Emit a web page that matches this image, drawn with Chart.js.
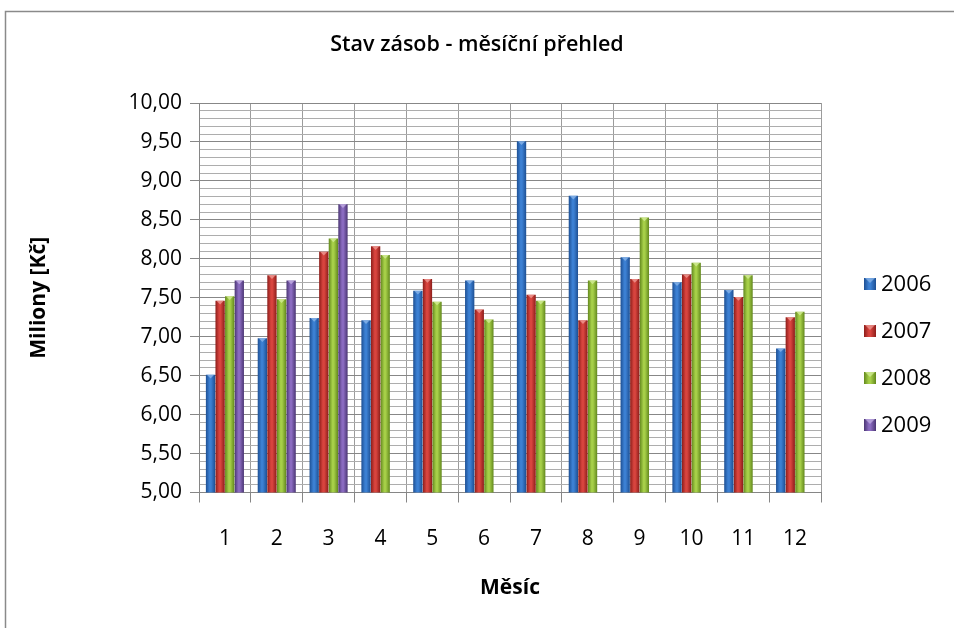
<!DOCTYPE html>
<html>
<head>
<meta charset="utf-8">
<script src="https://cdn.jsdelivr.net/npm/chart.js@4/dist/chart.umd.min.js"></script>
<style>
  html, body { margin: 0; padding: 0; background: #ffffff; }
  canvas { display: block; }
</style>
</head>
<body>
<canvas id="c" width="954" height="628"></canvas>
<script>
// Monthly stock levels (millions CZK) per year
const months = ['1', '2', '3', '4', '5', '6', '7', '8', '9', '10', '11', '12'];
const years = ['2006', '2007', '2008', '2009'];
const stock2006 = [6.51, 6.98, 7.24, 7.21, 7.59, 7.72, 9.51, 8.81, 8.02, 7.70, 7.60, 6.85];
const stock2007 = [7.46, 7.79, 8.09, 8.16, 7.74, 7.35, 7.54, 7.21, 7.74, 7.80, 7.51, 7.25];
const stock2008 = [7.52, 7.48, 8.26, 8.05, 7.45, 7.22, 7.46, 7.72, 8.53, 7.95, 7.79, 7.32];
const stock2009 = [7.72, 7.72, 8.70, null, null, null, null, null, null, null, null, null];
const yMin = 5;
const yMax = 10;

// Shading per series: [edge, centre, highlight]
const shades = [
  ['#1d4f93', '#3c80d3', '#8fb8ea'],
  ['#8c1d1a', '#d8443e', '#f0a09a'],
  ['#62881d', '#a6cf48', '#d6ee9c'],
  ['#4a3573', '#8a6bc0', '#c5b2e6']
];

const FONT = "'Open Sans', 'Noto Sans', sans-serif";

function isMajor(v) {
  return Math.abs(v * 2 - Math.round(v * 2)) < 1e-6;
}

function gradFor(ctx, x, w, s) {
  const g = ctx.createLinearGradient(x - w / 2, 0, x + w / 2, 0);
  g.addColorStop(0, s[0]);
  g.addColorStop(0.4, s[1]);
  g.addColorStop(0.55, s[1]);
  g.addColorStop(1, s[0]);
  return g;
}

function eachBar(chart, fn) {
  chart.data.datasets.forEach((ds, di) => {
    const meta = chart.getDatasetMeta(di);
    meta.data.forEach((bar, idx) => {
      if (ds.data[idx] == null) return;
      fn(bar, di);
    });
  });
}

// Horizontal shading and a bevelled cap on every bar
const barShade = {
  id: 'barShade',
  beforeDatasetsDraw(chart) {
    const c = chart.ctx;
    eachBar(chart, (bar, di) => {
      const p = bar.getProps(['x', 'width'], true);
      bar.options = Object.assign({}, bar.options, {
        backgroundColor: gradFor(c, p.x, p.width, shades[di])
      });
    });
  },
  afterDatasetsDraw(chart) {
    const c = chart.ctx;
    c.save();
    eachBar(chart, (bar, di) => {
      const p = bar.getProps(['x', 'y', 'width'], true);
      const h = p.width * 0.4;
      c.beginPath();
      c.moveTo(p.x - p.width / 2 + 1, p.y);
      c.lineTo(p.x + p.width / 2 - 1, p.y);
      c.lineTo(p.x, p.y + h);
      c.closePath();
      c.fillStyle = shades[di][2];
      c.globalAlpha = 0.75;
      c.fill();
    });
    c.restore();
  }
};

// Series key on the right and the outer frame
const sideKey = {
  id: 'sideKey',
  afterDraw(chart) {
    const c = chart.ctx;
    c.save();
    c.strokeStyle = '#8a8a8a';
    c.lineWidth = 1.5;
    c.beginPath();
    c.moveTo(5.5, chart.height + 2);
    c.lineTo(5.5, 11.5);
    c.lineTo(chart.width + 2, 11.5);
    c.stroke();

    const x0 = 864, y0 = 284, gap = 47, box = 12;
    c.font = '22px ' + FONT;
    c.textBaseline = 'middle';
    c.textAlign = 'left';
    chart.data.datasets.forEach((ds, i) => {
      const y = y0 + i * gap;
      c.fillStyle = gradFor(c, x0 + box / 2, box, shades[i]);
      c.fillRect(x0, y - box / 2, box, box);
      c.fillStyle = shades[i][2];
      c.globalAlpha = 0.7;
      c.beginPath();
      c.moveTo(x0 + 1, y - box / 2);
      c.lineTo(x0 + box - 1, y - box / 2);
      c.lineTo(x0 + box / 2, y - box / 2 + 5);
      c.closePath();
      c.fill();
      c.globalAlpha = 1;
      c.fillStyle = '#000000';
      c.fillText(ds.label, 881, y + 1);
    });
    c.restore();
  }
};

const seriesValues = [stock2006, stock2007, stock2008, stock2009];

new Chart(document.getElementById('c'), {
  type: 'bar',
  data: {
    labels: months,
    datasets: years.map((y, i) => ({
      label: y,
      data: seriesValues[i],
      backgroundColor: shades[i][1],
      borderWidth: 0,
      categoryPercentage: 0.74,
      barPercentage: 0.97
    }))
  },
  options: {
    responsive: false,
    animation: false,
    layout: { padding: 0 },
    plugins: {
      legend: { display: false },
      tooltip: { enabled: false },
      title: {
        display: true,
        text: 'Stav zásob - měsíční přehled',
        color: '#000000',
        font: { family: FONT, size: 21.5, weight: '600', lineHeight: 1.2 },
        padding: { top: 32, bottom: 45.2 }
      }
    },
    scales: {
      x: {
        grid: { color: '#9c9c9c', tickColor: '#868686', tickLength: 10, offset: true },
        border: { color: '#868686' },
        ticks: { color: '#000000', font: { family: FONT, size: 21 }, padding: 24 },
        title: {
          display: true,
          text: 'Měsíc',
          color: '#000000',
          font: { family: FONT, size: 21, weight: 'bold', lineHeight: 1.2 },
          padding: { top: 0, bottom: 27.5 }
        },
        afterFit(s) { s.height = 135.5; }
      },
      y: {
        min: yMin,
        max: yMax,
        afterBuildTicks(s) {
          const t = [];
          for (let k = 0; k <= 50; k++) t.push({ value: Math.round((yMin + k * 0.1) * 10) / 10 });
          s.ticks = t;
        },
        ticks: {
          autoSkip: false,
          color: '#000000',
          font: { family: FONT, size: 21 },
          padding: 8,
          callback: v => isMajor(v) ? v.toFixed(2).replace('.', ',') : ''
        },
        grid: {
          color: ctx => isMajor(ctx.tick.value) ? '#878787' : '#adadad',
          tickColor: ctx => isMajor(ctx.tick.value) ? '#878787' : 'rgba(0,0,0,0)',
          tickLength: 9
        },
        border: { color: '#868686' },
        title: {
          display: true,
          text: 'Miliony [Kč]',
          color: '#000000',
          font: { family: FONT, size: 21, weight: 'bold', lineHeight: 1.2 },
          padding: { top: 26, bottom: 0 }
        },
        afterFit(s) { s.width = 199; }
      },
      // empty band on the right that holds the series key
      key: {
        position: 'right',
        grid: { drawOnChartArea: false, drawTicks: false },
        border: { display: false },
        ticks: { display: false },
        afterFit(s) { s.width = 133; }
      }
    }
  },
  plugins: [barShade, sideKey]
});
</script>
</body>
</html>
